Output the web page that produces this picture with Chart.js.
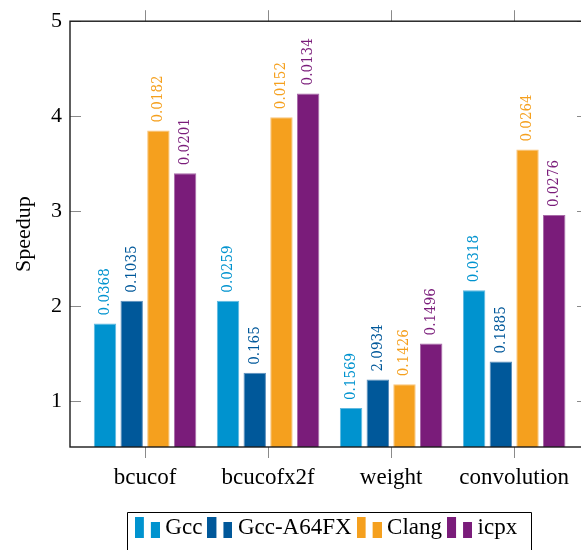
<!DOCTYPE html>
<html>
<head>
<meta charset="utf-8">
<script src="https://cdn.jsdelivr.net/npm/chart.js@4.4.1/dist/chart.umd.min.js"></script>
<style>
    html, body { margin: 0; padding: 0; overflow: hidden; background: #fff; width: 581px; height: 550px; }
    canvas { display: block; }
</style>
</head>
<body>
<canvas id="speedupChart" width="589" height="550" style="width:589px;height:550px"></canvas>
<script>
// ========== DATA ==========
const categories = ['bcucof', 'bcucofx2f', 'weight', 'convolution'];
const seriesNames = ['Gcc', 'Gcc-A64FX', 'Clang', 'icpx'];

const gccValues   = [1.82, 2.06, 0.93, 2.17];
const a64fxValues = [2.06, 1.30, 1.23, 1.42];
const clangValues = [3.85, 3.99, 1.18, 3.65];
const icpxValues  = [3.40, 4.24, 1.61, 2.96];

// text printed above each bar
const gccLabels   = ['0.0368', '0.0259', '0.1569', '0.0318'];
const a64fxLabels = ['0.1035', '0.165', '2.0934', '0.1885'];
const clangLabels = ['0.0182', '0.0152', '0.1426', '0.0264'];
const icpxLabels  = ['0.0201', '0.0134', '0.1496', '0.0276'];

const yTicks = [1, 2, 3, 4, 5];

// ========== STYLE ==========
const seriesColors = ['#0093cf', '#00589a', '#f5a01e', '#7a1c7a'];
const borderColors = ['#5fb9e0', '#5c8fbd', '#f9c47a', '#a86aa8'];
const serif = '"Liberation Serif", "Times New Roman", serif';

const allValues = [gccValues, a64fxValues, clangValues, icpxValues];
const allLabels = [gccLabels, a64fxLabels, clangLabels, icpxLabels];

Chart.defaults.font.family = serif;
Chart.defaults.color = '#000';

// Legend marker: two small bars like pgfplots ybar legend
function makeMarker(color) {
    const c = document.createElement('canvas');
    c.width = 25;
    c.height = 21;
    const g = c.getContext('2d');
    g.fillStyle = color;
    g.fillRect(0, 0, 9, 21);
    g.fillRect(16, 5, 9, 16);
    return c;
}
const markers = seriesColors.map(makeMarker);

// Frame, inner ticks, bar value labels, legend box
const decorPlugin = {
    id: 'decor',
    afterDatasetsDraw(chart) {
        const { ctx, chartArea: a, scales: { x, y } } = chart;
        ctx.save();

        // values above bars
        ctx.font = '15px "DejaVu Serif Condensed", "DejaVu Serif", serif';
        ctx.textAlign = 'left';
        ctx.textBaseline = 'middle';
        chart.data.datasets.forEach((ds, i) => {
            chart.getDatasetMeta(i).data.forEach((bar, j) => {
                ctx.save();
                ctx.translate(bar.x, bar.y - 8);
                ctx.rotate(-Math.PI / 2);
                ctx.fillStyle = seriesColors[i];
                ctx.fillText(allLabels[i][j], 0, 0);
                ctx.restore();
            });
        });

        const line = (x1, y1, x2, y2) => {
            ctx.beginPath();
            ctx.moveTo(x1, y1);
            ctx.lineTo(x2, y2);
            ctx.stroke();
        };

        // tick marks
        ctx.strokeStyle = '#8a8a8a';
        ctx.lineWidth = 1;
        yTicks.forEach(v => {
            const py = Math.round(y.getPixelForValue(v)) + 0.5;
            line(a.left, py, a.left + 11, py);
            line(a.right - 11, py, a.right, py);
        });
        categories.forEach((c, i) => {
            const px = Math.round(x.getPixelForValue(i)) + 0.5;
            line(px, a.top, px, a.top - 11);
        });

        // axis frame
        ctx.strokeStyle = '#1a1a1a';
        ctx.lineWidth = 1.4;
        ctx.strokeRect(a.left, a.top, a.right - a.left, a.bottom - a.top);
        ctx.restore();
    },
    afterDraw(chart) {
        const lg = chart.legend;
        const hb = lg.legendHitBoxes;
        if (!hb || !hb.length) return;
        const last = hb[hb.length - 1];
        const left = Math.round(hb[0].left - 14) + 0.5;
        const right = Math.round(last.left + last.width + 14) + 0.5;
        const top = Math.round(lg.top + 7) + 0.5;
        const ctx = chart.ctx;
        ctx.save();
        ctx.strokeStyle = '#000';
        ctx.lineWidth = 1;
        ctx.beginPath();
        ctx.moveTo(left, chart.height + 5);
        ctx.lineTo(left, top);
        ctx.lineTo(right, top);
        ctx.lineTo(right, chart.height + 5);
        ctx.stroke();
        ctx.restore();
    }
};

const ctx = document.getElementById('speedupChart').getContext('2d');
new Chart(ctx, {
    type: 'bar',
    data: {
        datasets: seriesNames.map((name, i) => ({
            label: name,
            data: allValues[i].map((v, j) => ({ x: j, y: v })),
            backgroundColor: seriesColors[i],
            borderColor: borderColors[i],
            borderWidth: 1,
            borderSkipped: false,
            categoryPercentage: 0.868,
            barPercentage: 0.84
        }))
    },
    options: {
        responsive: false,
        animation: false,
        layout: { padding: { top: 16, left: 0, right: 1, bottom: 1 } },
        plugins: {
            tooltip: { enabled: false },
            legend: {
                position: 'bottom',
                fullSize: false,
                labels: {
                    usePointStyle: true,
                    boxWidth: 13,
                    pointStyleWidth: 13,
                    padding: 11,
                    color: '#000',
                    font: { size: 23, family: serif },
                    generateLabels: chart => chart.data.datasets.map((ds, i) => ({
                        text: ds.label,
                        pointStyle: markers[i],
                        fillStyle: seriesColors[i],
                        strokeStyle: seriesColors[i],
                        lineWidth: 0,
                        fontColor: '#000',
                        hidden: !chart.isDatasetVisible(i),
                        datasetIndex: i
                    }))
                }
            }
        },
        scales: {
            x: {
                type: 'linear',
                offset: false,
                min: -0.61,
                max: 3.6,
                afterBuildTicks: s => { s.ticks = categories.map((c, i) => ({ value: i })); },
                afterFit: s => { s.height = 58; },
                ticks: {
                    callback: v => categories[v],
                    font: { size: 23, family: serif },
                    color: '#000',
                    padding: 6,
                    maxRotation: 0,
                    autoSkip: false
                },
                grid: { display: true, offset: false, drawOnChartArea: false, drawTicks: true, tickLength: 11, color: '#8a8a8a' },
                border: { display: false }
            },
            y: {
                min: 0.52,
                max: 5,
                afterBuildTicks: s => { s.ticks = yTicks.map(v => ({ value: v })); },
                afterFit: s => { s.width = 70; },
                ticks: { font: { size: 22, family: serif }, color: '#000', padding: 8 },
                grid: { display: false, drawTicks: false },
                border: { display: false },
                title: {
                    display: true,
                    text: 'Speedup',
                    font: { size: 22, family: serif },
                    color: '#000',
                    padding: { top: 11, bottom: 0 }
                }
            }
        }
    },
    plugins: [decorPlugin]
});
</script>
</body>
</html>
